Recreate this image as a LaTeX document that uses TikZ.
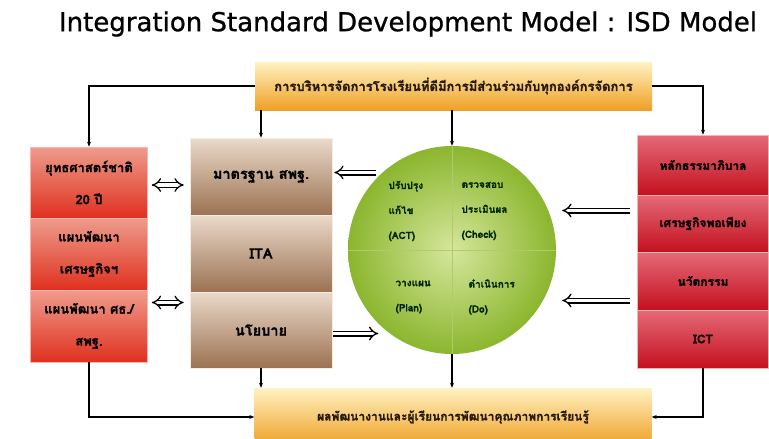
\documentclass[tikz,border=0pt]{standalone}
\usepackage{fontspec}
\usetikzlibrary{arrows.meta,shadings,calc}
\newfontfamily\thai[Script=Thai,BoldFeatures={FakeBold=1.2}]{Loma}
\newfontfamily\titlefont[FakeBold=0.9]{DejaVu Sans}
\definecolor{barTop}{HTML}{FFF2C2}
\definecolor{barBot}{HTML}{EFA024}
\definecolor{redTopL}{HTML}{EE9C8C}
\definecolor{redBotL}{HTML}{E0301E}
\definecolor{redTopR}{HTML}{E46A78}
\definecolor{redBotR}{HTML}{C4101E}
\definecolor{brTop}{HTML}{EADACA}
\definecolor{brBot}{HTML}{9C7252}
\definecolor{grIn}{HTML}{D6E69C}
\definecolor{grOut}{HTML}{8BB62E}
\begin{document}
\begin{tikzpicture}[x=1pt,y=-1pt,
  bar/.style={rectangle,inner sep=0pt,top color=barTop,bottom color=barBot,minimum width=397pt,text=black!80!brown},
  leftbox/.style={rectangle,inner sep=1pt,top color=redTopL,bottom color=redBotL,draw=white!70!red,line width=0.6pt,minimum width=117pt,align=center,font=\thai\bfseries\fontsize{13}{32}\selectfont},
  rightbox/.style={rectangle,inner sep=1pt,top color=redTopR,bottom color=redBotR,draw=white!70!red,line width=0.6pt,minimum width=131pt,align=center,font=\thai\bfseries\fontsize{12}{14}\selectfont},
  brownbox/.style={rectangle,inner sep=1pt,top color=brTop,bottom color=brBot,draw=white!85!brown,line width=0.6pt,minimum width=142pt,align=center,font=\thai\bfseries\fontsize{14.5}{16}\selectfont},
  pdca/.style={anchor=west,align=left,font=\thai\bfseries\fontsize{10}{25}\selectfont,text=black!85!green},
  conn/.style={line width=1.6pt,-{Stealth[length=5pt,width=4pt]}},
  hollow/.style={double=white,double distance=3.4pt,line width=1.3pt,-{Implies}},
  hollowtwo/.style={double=white,double distance=3.4pt,line width=1.3pt,{Implies}-{Implies}}
]
\useasboundingbox (0,0) rectangle (769,439);
\fill[white] (0,0) rectangle (769,439);

% title
\node (title) at (408,24) {\titlefont\fontsize{26}{30}\selectfont Integration Standard Development Model : ISD Model};

% bars
\node[bar,minimum height=48pt,font=\thai\bfseries\fontsize{13}{15}\selectfont] (T) at (453.5,86) {การบริหารจัดการโรงเรียนที่ดีมีการมีส่วนร่วมกับทุกองค์กรจัดการ};
\node[bar,minimum height=58pt,font=\thai\bfseries\fontsize{12}{14}\selectfont] (Bt) at (453,417) {ผลพัฒนางานและผู้เรียนการพัฒนาคุณภาพการเรียนรู้};

% left stack
\node[leftbox,minimum height=71pt] (L1) at (89,182.5) {ยุทธศาสตร์ชาติ\\20 ปี};
\node[leftbox,minimum height=72pt] (L2) at (89,254) {แผนพัฒนา\\เศรษฐกิจฯ};
\node[leftbox,minimum height=72pt] (L3) at (89,326) {แผนพัฒนา ศธ./\\สพฐ.};

% brown stack
\node[brownbox,minimum height=77pt] (B1) at (261,176.5) {มาตรฐาน สพฐ.};
\node[brownbox,minimum height=77pt] (B2) at (261,253.5) {ITA};
\node[brownbox,minimum height=76pt] (B3) at (261,330) {นโยบาย};

% right stack
\node[rightbox,minimum height=60pt] (R1) at (703,165) {หลักธรรมาภิบาล};
\node[rightbox,minimum height=57pt] (R2) at (703,223.5) {เศรษฐกิจพอเพียง};
\node[rightbox,minimum height=58pt] (R3) at (703,281) {นวัตกรรม};
\node[rightbox,minimum height=58pt] (R4) at (703,339) {ICT};

% circle
\node[circle,minimum size=208pt,inner sep=0pt,inner color=grIn,outer color=grOut] (C) at (452,250) {};
\draw[grOut!70!white,line width=0.8pt] (C.north) -- (C.south);
\draw[grOut!70!white,line width=0.8pt] (C.west) -- (C.east);
\node[pdca] (act) at (385,211) {ปรับปรุง\\แก้ไข\\(ACT)};
\node[pdca] (chk) at (458,211) {ตรวจสอบ\\ประเมินผล\\(Check)};
\node[pdca] (plan) at (392,297) {วางแผน\\(Plan)};
\node[pdca] (do) at (465,297) {ดำเนินการ\\(Do)};

% connectors
\draw[conn] (T.west) -| (L1.north);
\draw[conn] (T.east) -| (R1.north);
\draw[conn] (L3.south) |- (Bt.west);
\draw[conn] (R4.south) |- (Bt.east);
\draw[conn] (T.south -| B1.north) -- (B1.north);
\draw[conn] (T.south -| C.north) -- (C.north);
\draw[conn] (B3.south) -- (B3.south |- Bt.north);
\draw[conn] (C.south) -- (C.south |- Bt.north);

% hollow arrows
\draw[hollowtwo] ($(L1.east)+(4,2.5)$) -- ($(L1.east -| B1.west)+(-6,2.5)$);
\draw[hollowtwo] ($(L3.east)+(4,-23.5)$) -- ($(L3.east -| B3.west)+(-6,-23.5)$);
\draw[hollow] ($(B1.east)+(44,-4)$) -- ($(B1.east)+(2,-4)$);
\draw[hollow] ($(B3.east)+(1,3.5)$) -- ($(B3.east)+(46,3.5)$);
\draw[hollow] ($(R2.west)+(-7,-13)$) -- ($(R2.west -| C.east)+(6,-13)$);
\draw[hollow] ($(R3.west)+(-7,19.5)$) -- ($(R3.west -| C.east)+(6,19.5)$);
\end{tikzpicture}
\end{document}
